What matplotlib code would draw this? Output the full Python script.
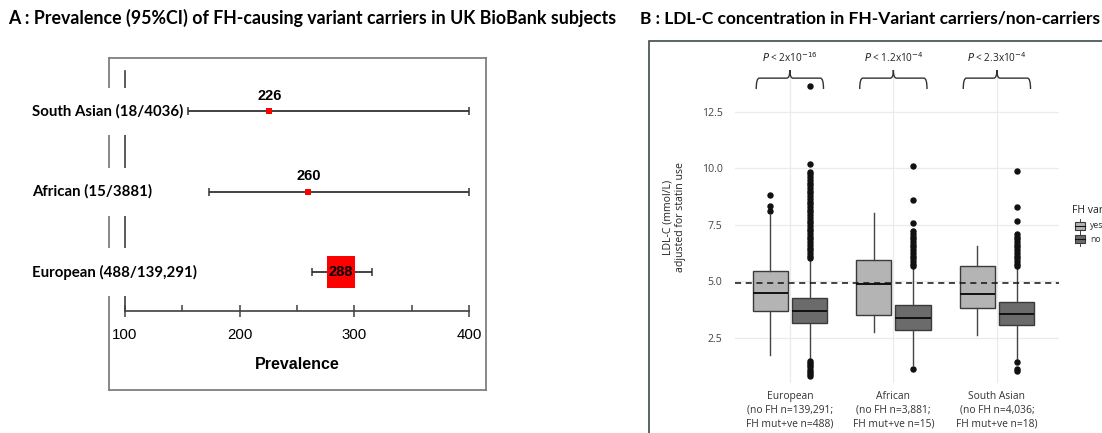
import matplotlib
matplotlib.use("Agg")
import matplotlib.pyplot as plt
from matplotlib.path import Path
from matplotlib.patches import Rectangle, PathPatch
import numpy as np

# ---------------- data: panel A ----------------
groups_a = ["European (488/139,291)", "African (15/3881)", "South Asian (18/4036)"]
prevalence = [288, 260, 226]
ci_low = [263, 173, 155]
ci_high = [315, 400, 400]
value_labels = ["288", "260", "226"]
xticks_a = [100, 200, 300, 400]
xminor_a = [150, 250, 350]

# ---------------- data: panel B ----------------
categories_b = ["European\n(no FH n=139,291;\nFH mut+ve n=488)",
                "African\n(no FH n=3,881;\nFH mut+ve n=15)",
                "South Asian\n(no FH n=4,036;\nFH mut+ve n=18)"]
# yes (FH variant carriers)
yes_q1 = [3.69, 3.50, 3.82]
yes_med = [4.46, 4.87, 4.41]
yes_q3 = [5.44, 5.93, 5.68]
yes_wlo = [1.73, 2.76, 2.61]
yes_whi = [7.92, 8.02, 6.55]
yes_fliers = [[8.08, 8.31, 8.81], [], []]
# no (non carriers)
no_q1 = [3.16, 2.83, 3.04]
no_med = [3.69, 3.35, 3.55]
no_q3 = [4.26, 3.94, 4.08]
no_wlo = [1.55, 1.28, 1.50]
no_whi = [5.95, 5.60, 5.60]
no_fliers = [
    [6.00, 6.12, 6.24, 6.36, 6.48, 6.60, 6.72, 6.84, 6.96, 7.08, 7.20, 7.32,
     7.44, 7.56, 7.68, 7.80, 7.92, 8.04, 8.16, 8.28, 8.40, 8.52, 8.64, 8.76,
     8.88, 9.00, 9.12, 9.24, 9.36, 9.48, 9.60, 9.72, 9.84, 10.16, 13.64,
     1.48, 1.38, 1.28, 1.18, 1.08, 0.98, 0.88, 0.78],
    [5.65, 5.77, 5.89, 6.01, 6.13, 6.25, 6.37, 6.49, 6.61, 6.73, 6.85, 6.97,
     7.09, 7.21, 7.55, 8.58, 10.10, 1.10],
    [5.65, 5.77, 5.89, 6.01, 6.13, 6.25, 6.37, 6.49, 6.61, 6.73, 6.85, 6.97,
     7.09, 7.67, 8.26, 9.85, 1.40, 1.09, 1.01],
]
p_labels = [r"$P$ < 2x10$^{-16}$", r"$P$ < 1.2x10$^{-4}$", r"$P$ < 2.3x10$^{-4}$"]
ref_line = 4.9
yticks_b = [2.5, 5.0, 7.5, 10.0, 12.5]

W, H = 1102, 433
fig = plt.figure(figsize=(W / 100, H / 100), dpi=100)


def px_axes(l, t, r, b):
    return fig.add_axes([l / W, 1 - b / H, (r - l) / W, (b - t) / H])


# ================= Panel A =================
fig.text(8 / W, 1 - 18 / H,
         "A : Prevalence (95%CI) of FH-causing variant carriers in UK BioBank subjects",
         fontsize=12.8, fontweight="bold", family="Lato", va="center", ha="left")

frame = px_axes(109, 58, 486, 390)
frame.set_xticks([]); frame.set_yticks([])
for s in frame.spines.values():
    s.set_color("#7f7f7f"); s.set_linewidth(1.3)
frame.patch.set_alpha(0)

axA = px_axes(125, 71, 469, 311)
axA.patch.set_alpha(0)
axA.set_xlim(100, 400)
ypos = np.arange(len(groups_a))
axA.set_ylim(-0.48, 2.5)
axA.spines["top"].set_visible(False)
axA.spines["right"].set_visible(False)
for s in ("left", "bottom"):
    axA.spines[s].set_color("#404040"); axA.spines[s].set_linewidth(1.2)
axA.set_xticks(xticks_a)
axA.set_xticks(xminor_a, minor=True)
axA.tick_params(axis="x", which="major", direction="inout", length=8, width=1.1,
                color="#404040", labelsize=10.8, pad=8)
axA.tick_params(axis="x", which="minor", direction="in", length=4, width=1.1,
                color="#404040")
axA.set_yticks([])
for lab in axA.get_xticklabels():
    lab.set_family("Liberation Sans")
axA.set_xlabel("Prevalence", fontsize=11.5, fontweight="bold", family="Liberation Sans",
               labelpad=11)

for i in range(len(groups_a)):
    axA.errorbar(prevalence[i], ypos[i],
                 xerr=[[prevalence[i] - ci_low[i]], [ci_high[i] - prevalence[i]]],
                 fmt="none", ecolor="#333333", elinewidth=1.3, capsize=3,
                 capthick=1.1, clip_on=False, zorder=7)

rect_marker = Path([(-0.42, -0.5), (0.42, -0.5), (0.42, 0.5), (-0.42, 0.5), (-0.42, -0.5)],
                   [Path.MOVETO, Path.LINETO, Path.LINETO, Path.LINETO, Path.CLOSEPOLY])
marker_sizes = [23.5, 3.8, 3.8]
for i in range(len(groups_a)):
    axA.plot(prevalence[i], ypos[i], marker=rect_marker if i == 0 else "s",
             markersize=marker_sizes[i], color="#ff0000", mec="#ff0000", mew=0,
             clip_on=False, zorder=8)
    if i == 0:
        axA.text(prevalence[i], ypos[i], value_labels[i], ha="center", va="center",
                 fontsize=10.5, fontweight="bold", family="Liberation Sans", zorder=9)
    else:
        axA.annotate(value_labels[i], (prevalence[i], ypos[i]), xytext=(0, 6),
                     textcoords="offset points", ha="center", va="bottom",
                     fontsize=10.5, fontweight="bold", family="Liberation Sans", zorder=9)
    axA.annotate(groups_a[i], xy=(0, ypos[i]), xycoords=("figure pixels", "data"),
                 xytext=(32, 0), textcoords="offset pixels",
                 ha="left", va="center", fontsize=10.8, fontweight="bold",
                 family="Lato", zorder=6, annotation_clip=False,
                 bbox=dict(boxstyle="square,pad=1.1", fc="white", ec="none"))

# ================= Panel B =================
fig.text(640 / W, 1 - 18 / H,
         "B : LDL-C concentration in FH-Variant carriers/non-carriers",
         fontsize=12.5, fontweight="bold", family="Lato", va="center", ha="left")

fig.patches.append(Rectangle((649 / W, -0.05), 1.2, 1 - 41 / H + 0.05,
                             transform=fig.transFigure, fill=False,
                             ec="#3c4b4b", lw=1.2))

axB = px_axes(735, 70, 1059, 383)
axB.set_xlim(-0.53, 2.6)
axB.set_ylim(0.49, 14.34)
for s in axB.spines.values():
    s.set_visible(False)
xc = np.arange(len(categories_b))
axB.set_xticks(xc)
axB.set_xticklabels(categories_b, fontsize=7.4, color="#333333",
                    family="Open Sans", linespacing=1.3)
axB.set_yticks(yticks_b)
axB.set_yticklabels([f"{v:.1f}" for v in yticks_b], fontsize=7.6,
                    color="#444444", family="Open Sans")
axB.tick_params(length=0, pad=6)
axB.tick_params(axis="y", pad=9)
axB.grid(True, color="#ebebeb", lw=0.9)
axB.set_axisbelow(True)
axB.set_ylabel("LDL-C (mmol/L)\nadjusted for statin use", fontsize=7.6,
               family="Open Sans", color="#222222", linespacing=1.2)
axB.yaxis.set_label_coords(-0.15, 0.53)

off, bw = 0.19, 0.34
yes_col, no_col = "#b4b4b4", "#6b6b6b"


def stats(q1, med, q3, lo, hi, fl):
    return [dict(q1=a, med=b, q3=c, whislo=d, whishi=e, fliers=f)
            for a, b, c, d, e, f in zip(q1, med, q3, lo, hi, fl)]


for st, pos, col in ((stats(yes_q1, yes_med, yes_q3, yes_wlo, yes_whi, yes_fliers), xc - off, yes_col),
                     (stats(no_q1, no_med, no_q3, no_wlo, no_whi, no_fliers), xc + off, no_col)):
    axB.bxp(st, positions=pos, widths=bw, patch_artist=True, showcaps=False,
            boxprops=dict(facecolor=col, edgecolor="#3a3a3a", lw=1.0),
            medianprops=dict(color="#111111", lw=1.4),
            whiskerprops=dict(color="#444444", lw=1.0),
            flierprops=dict(marker="o", markersize=3.6, markerfacecolor="#111111",
                            markeredgecolor="#111111", linestyle="none"),
            manage_ticks=False, zorder=3)

axB.axhline(ref_line, color="#111111", lw=1.1, ls=(0, (4, 3)), zorder=4)

# braces with p-values
b_lo, b_mid, b_tip = 13.5, 13.98, 14.34
hw = 0.325
for i, c in enumerate(xc):
    verts = [(c - hw, b_lo), (c - hw, b_mid), (c - hw + 0.03, b_mid),
             (c - 0.03, b_mid), (c, b_mid), (c, b_tip),
             (c, b_mid), (c + 0.03, b_mid),
             (c + hw - 0.03, b_mid), (c + hw, b_mid), (c + hw, b_lo)]
    codes = [Path.MOVETO, Path.CURVE3, Path.CURVE3, Path.LINETO, Path.CURVE3, Path.CURVE3,
             Path.CURVE3, Path.CURVE3, Path.LINETO, Path.CURVE3, Path.CURVE3]
    axB.add_patch(PathPatch(Path(verts, codes), fill=False, ec="#333333", lw=1.0,
                            clip_on=False, zorder=5))
    axB.text(c, b_tip + 0.2, p_labels[i], ha="center", va="bottom", fontsize=7.2,
             family="Open Sans", color="#222222", clip_on=False)

# legend (clipped by figure edge as in the original)
fig.text(1072 / W, 1 - 210 / H, "FH variant", fontsize=7.6, family="Open Sans",
         color="#222222", va="center", ha="left")
for lab, col, yy in (("yes", yes_col, 226), ("no", no_col, 239)):
    fig.patches.append(Rectangle((1075 / W, 1 - (yy + 4) / H), 10 / W, 8 / H,
                                 transform=fig.transFigure, fc=col, ec="#3a3a3a", lw=0.8))
    fig.lines.append(plt.Line2D([1075 / W, 1085 / W], [1 - yy / H] * 2,
                                transform=fig.transFigure, color="#111111", lw=0.8))
    fig.lines.append(plt.Line2D([1080 / W] * 2, [1 - (yy - 7) / H, 1 - (yy + 7) / H],
                                transform=fig.transFigure, color="#444444", lw=0.7,
                                zorder=0))
    fig.text(1090 / W, 1 - yy / H, lab, fontsize=6.2, family="Open Sans",
             color="#333333", va="center", ha="left")

fig.savefig("out.png", dpi=100)
